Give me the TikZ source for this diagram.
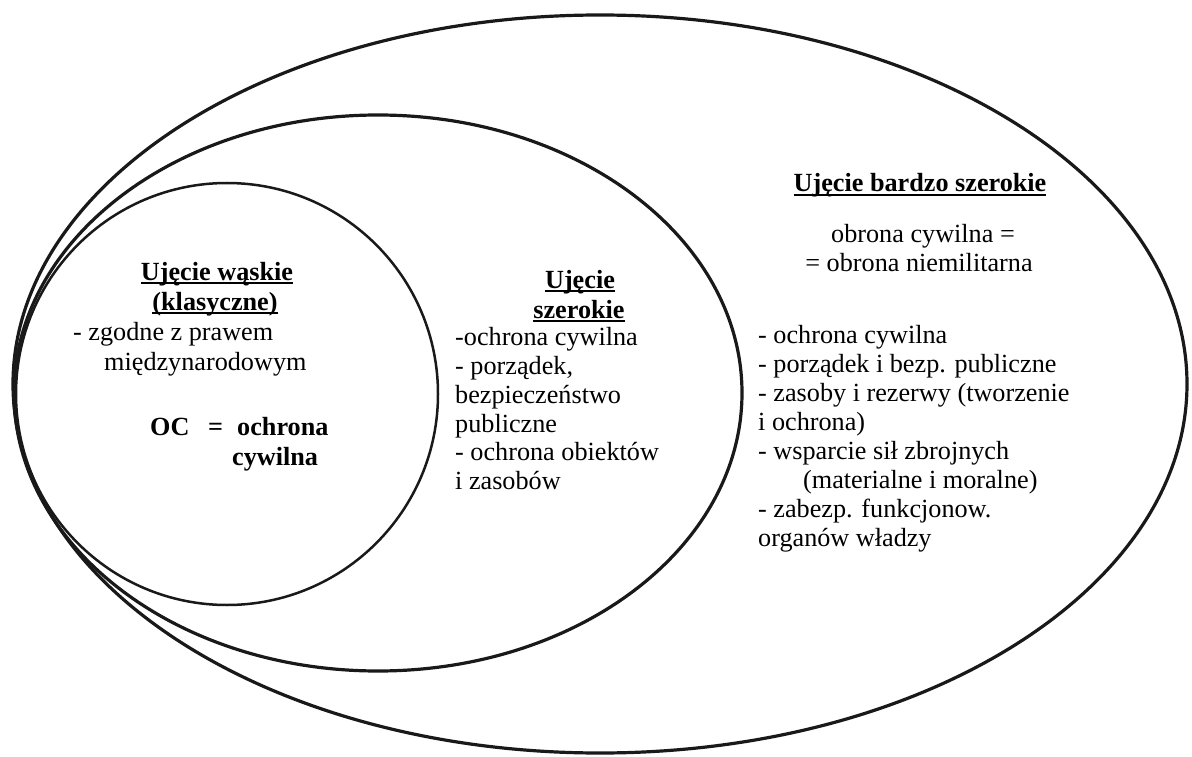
\documentclass[tikz,border=0pt]{standalone}
\usepackage{fontspec}
\setmainfont{Liberation Serif}
\newcommand\ulbox[1]{\setbox0\hbox{#1}\rlap{\rule[-4pt]{\wd0}{2.2pt}}\box0}
\tikzset{
  ring/.style={draw=black!90, line width=3.2pt},
  ringthin/.style={draw=black!90, line width=2.5pt},
  txt/.style={inner sep=0pt, anchor=base west, font=\fontsize{26.2}{29}\selectfont},
  ctxt/.style={inner sep=0pt, anchor=base, font=\fontsize{26.2}{29}\selectfont},
  hd/.style={inner sep=0pt, anchor=base, font=\fontsize{26.2}{29}\selectfont\bfseries},
  bl/.style={inner sep=0pt, anchor=base west, font=\fontsize{26.2}{29}\selectfont\bfseries}
}
\begin{document}
\begin{tikzpicture}[x=1pt,y=-1pt]
\useasboundingbox (0,0) rectangle (1192,757);
% ellipses
\draw[ring] (600,384) ellipse [x radius=587, y radius=369];
\draw[ring] (378,393) ellipse [x radius=364, y radius=278];
\draw[ringthin] (227,394) ellipse [x radius=211, y radius=211];
% narrow
\node[hd] (n1) at (217,280) {\ulbox{Ujęcie wąskie}};
\node[hd] (n2) at (215,310) {\ulbox{(klasyczne)}};
\node[txt] (n3) at (73,340) {- zgodne z prawem};
\node[txt] (n4) at (104,370) {międzynarodowym};
\node[bl] (n5) at (150,435) {OC};
\node[bl] (n6) at (208,435) {=};
\node[bl] (n7) at (237,435) {ochrona};
\node[bl] (n8) at (232,465) {cywilna};
% broad
\node[hd] (s1) at (580,288) {\ulbox{Ujęcie}};
\node[hd] (s2) at (579,318) {\ulbox{szerokie}};
\node[txt] (s3) at (455,345) {-ochrona cywilna};
\node[txt] (s4) at (455,374) {- porządek,};
\node[txt] (s5) at (455,403) {bezpieczeństwo};
\node[txt] (s6) at (455,432) {publiczne};
\node[txt] (s7) at (455,460) {- ochrona obiektów};
\node[txt] (s8) at (455,489) {i zasobów};
% very broad
\node[hd] (b1) at (920,192) {\ulbox{Ujęcie bardzo szerokie}};
\node[ctxt] (b2) at (923,242) {obrona cywilna =};
\node[ctxt] (b3) at (919,271) {= obrona niemilitarna};
\node[txt] (b4) at (758,343) {- ochrona cywilna};
\node[txt] (b5) at (758,372) {- porządek i bezp. publiczne};
\node[txt] (b6) at (758,401) {- zasoby i rezerwy (tworzenie};
\node[txt] (b7) at (758,430) {i ochrona)};
\node[txt] (b8) at (758,459) {- wsparcie sił zbrojnych};
\node[txt] (b9) at (803,488) {(materialne i moralne)};
\node[txt] (b10) at (758,517) {- zabezp. funkcjonow.};
\node[txt] (b11) at (758,546) {organów władzy};
\end{tikzpicture}
\end{document}
